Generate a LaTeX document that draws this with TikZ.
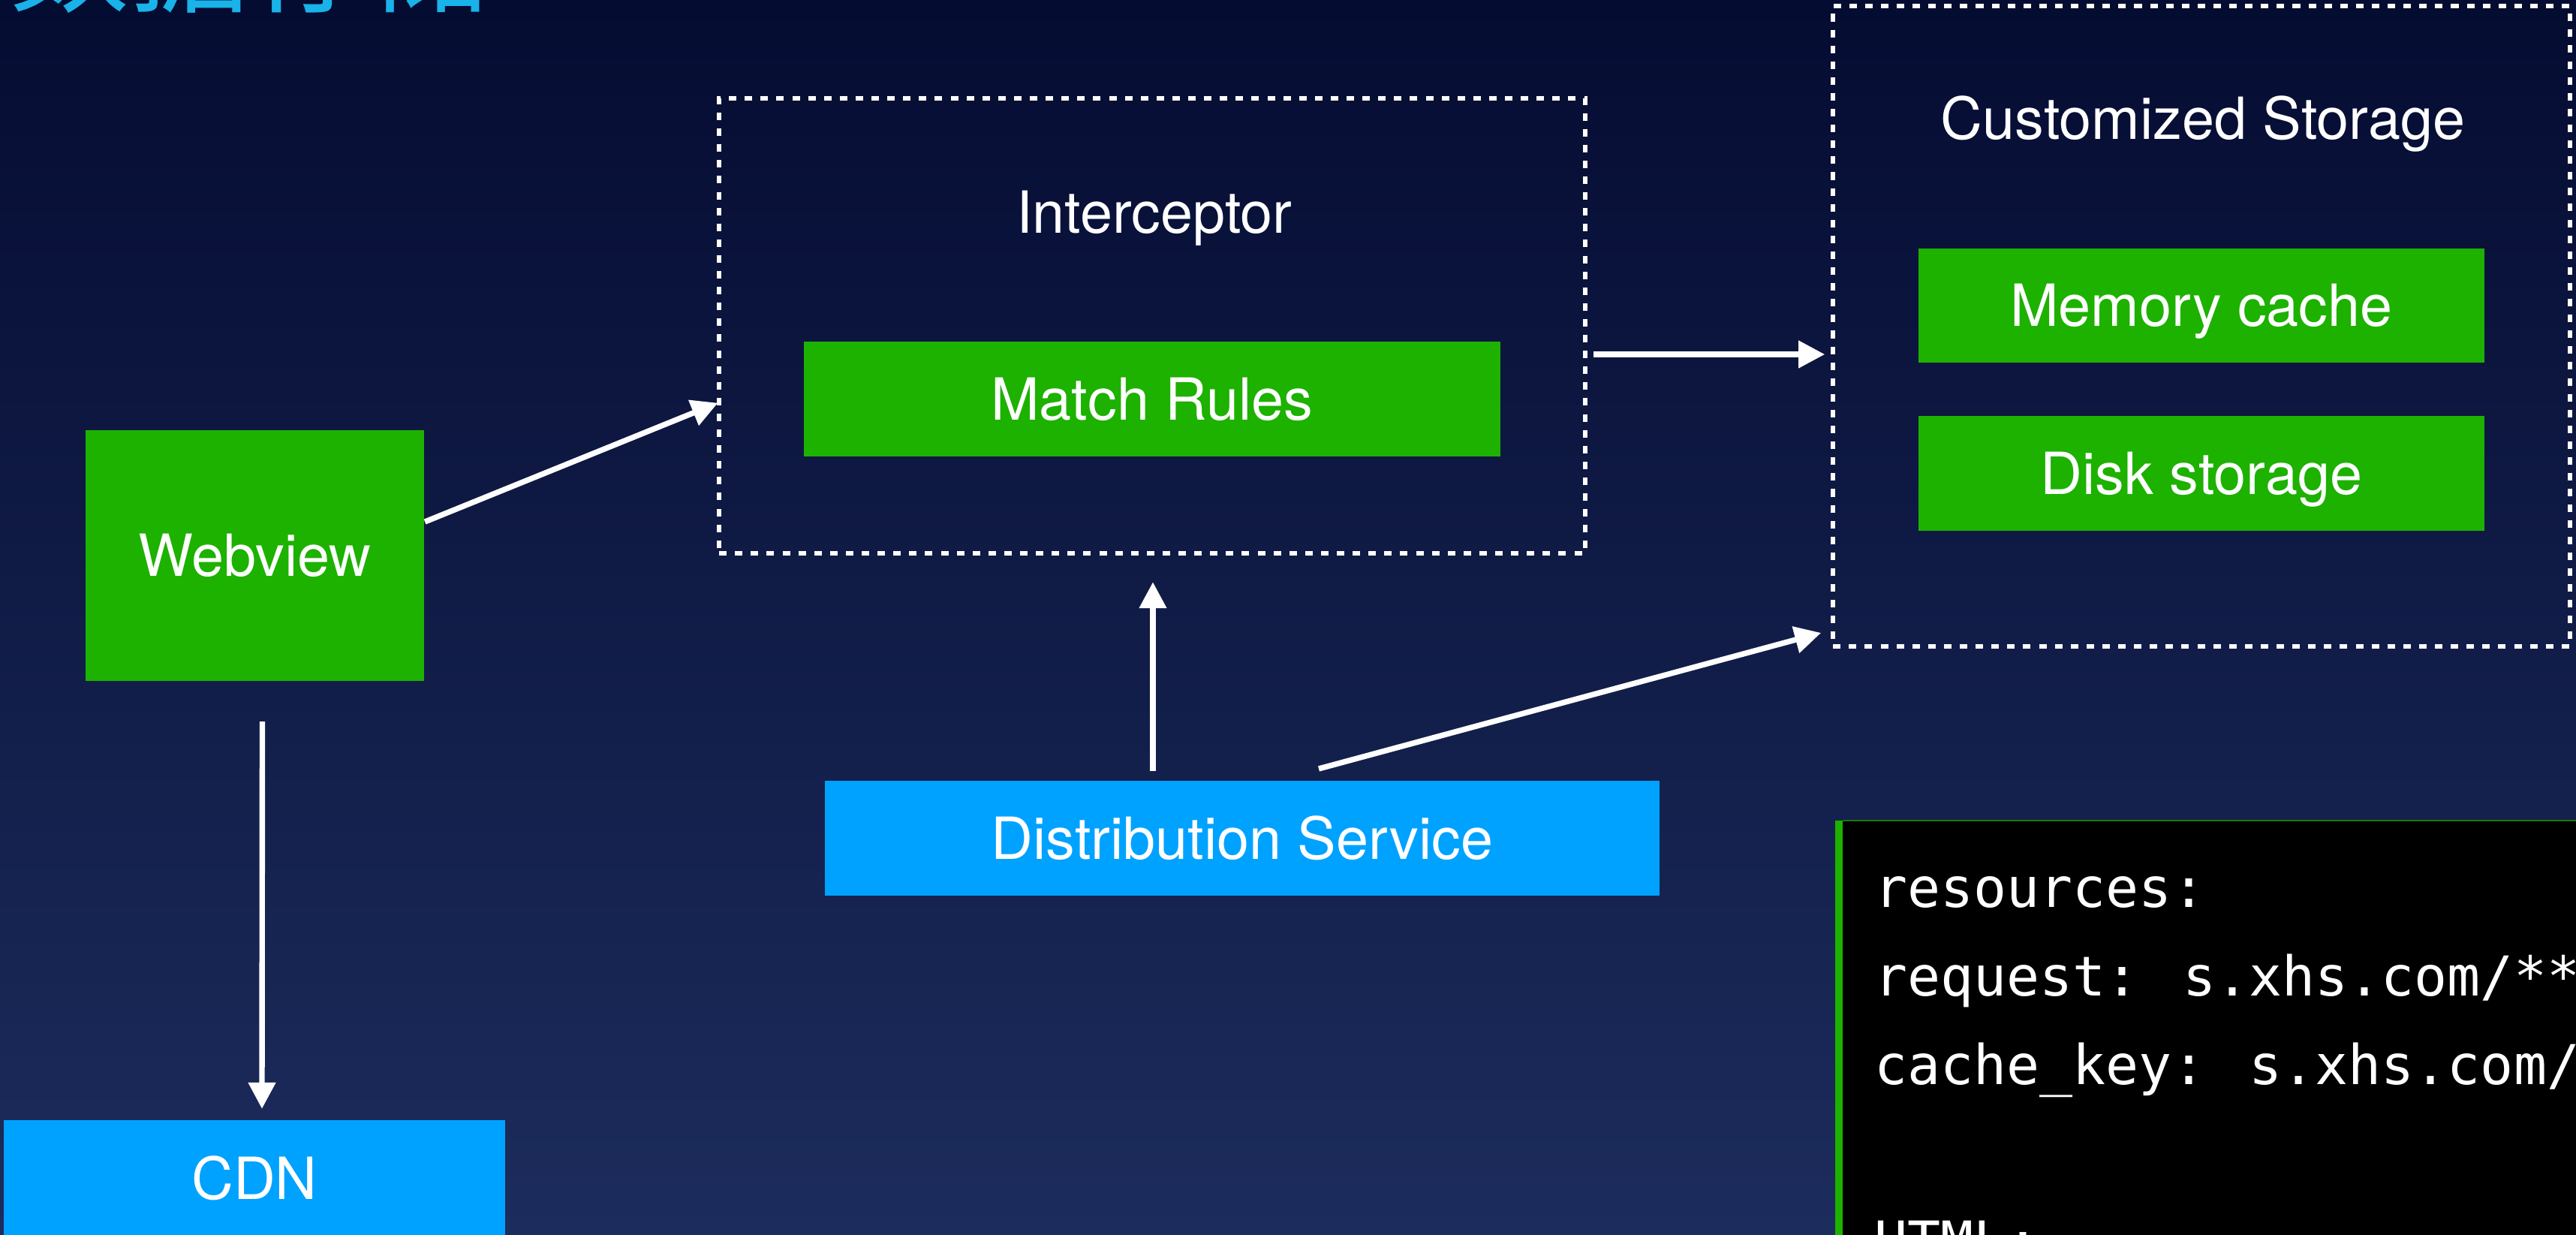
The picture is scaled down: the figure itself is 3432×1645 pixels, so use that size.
\documentclass[tikz,border=0pt]{standalone}
\usepackage{fontspec}
\usetikzlibrary{arrows.meta,calc}
\newfontfamily\heros{TeX Gyre Heros}
\newfontfamily\codefont{DejaVu Sans Mono}
\newfontfamily\cjk{Noto Sans CJK SC}
\definecolor{bgtop}{HTML}{050C32}
\definecolor{bgbot}{HTML}{1C2C5C}
\definecolor{kgreen}{HTML}{1DB100}
\definecolor{kblue}{HTML}{00A2FF}
\definecolor{ktitle}{HTML}{19B2E9}
\begin{document}
\begin{tikzpicture}[x=0.01cm,y=-0.01cm,
  box/.style={rectangle, inner sep=0pt, outer sep=0pt, text=white,
    font=\heros\fontsize{22}{26}\selectfont, text height=0.55cm, text depth=0cm},
  greenbox/.style={box, fill=kgreen},
  bluebox/.style={box, fill=kblue},
  group/.style={rectangle, draw=white, line width=1.6pt,
    dash pattern=on 2.85pt off 3.15pt, inner sep=0pt, outer sep=0pt},
  lbl/.style={text=white, font=\heros\fontsize{22}{26}\selectfont, anchor=base, inner sep=0pt},
  arr/.style={draw=white, line width=2.1pt, -{Triangle[length=0.35cm,width=0.35cm]}},
  code/.style={text=white, font=\codefont\fontsize{20.8}{25}\selectfont, anchor=base west, inner sep=0pt}
]
\useasboundingbox (0,0) rectangle (3432,1645);
\clip (0,0) rectangle (3432,1645);
\shade[top color=bgtop, bottom color=bgbot] (0,0) rectangle (3432,1645);

% title (cut off at the top)
\node[anchor=base west, inner sep=0pt, text=ktitle, font=\cjk\fontsize{45.5}{50}\selectfont] (title) at (12,4) {数据存储};

% interceptor group
\node[group, minimum width=11.53cm, minimum height=6.06cm] (icpt) at (1535,434) {};
\node[lbl] (icptlbl) at (1538,310) {Interceptor};
\node[greenbox, minimum width=9.27cm, minimum height=1.53cm] (match) at (1535,531.5) {Match Rules};

% storage group
\node[group, minimum width=9.81cm, minimum height=8.53cm] (stor) at (2933,434.5) {};
\node[lbl] (storlbl) at (2935,185) {Customized Storage};
\node[greenbox, minimum width=7.54cm, minimum height=1.52cm] (mem) at (2933,407) {Memory cache};
\node[greenbox, minimum width=7.54cm, minimum height=1.53cm] (disk) at (2933,630.5) {Disk storage};

% webview, cdn, distribution
\node[greenbox, minimum width=4.51cm, minimum height=3.34cm] (webview) at (339.5,740) {Webview};
\node[bluebox, minimum width=6.68cm, minimum height=1.56cm] (cdn) at (339,1570) {CDN};
\node[bluebox, minimum width=11.12cm, minimum height=1.53cm] (dist) at (1655,1116.5) {Distribution Service};

% code panel
\fill[black] (2454.5,1092.5) rectangle (3440,1700);
\fill[kgreen] (2444.5,1092.5) rectangle (2454.5,1700);
\draw[kgreen!70!black, line width=0.5pt] (2454.5,1093.2) -- (3440,1093.2);
\node[code] (code1) at (2497,1208.5) {resources:};
\node[code] (code2) at (2497,1326) {request: s.xhs.com/**};
\node[code] (code3) at (2497,1444) {cache\_key: s.xhs.com/};
\node[code] (code4) at (2497,1679) {HTML:};

% connectors
\draw[arr] ($(webview.east)+(1,-45)$) -- ($(icpt.west)+(-1.7,102.7)$);
\draw[arr] ($(icpt.east)+(11.3,38)$) -- ($(stor.west)+(-11,37.5)$);
\draw[arr] ($(dist.north)+(-119,-13)$) -- ($(icpt.south)+(1,38)$);
\draw[arr] ($(dist.north)+(102,-16)$) -- ($(stor.south west)+(-16,-18.3)$);
\draw[arr] ($(webview.south)+(10,54)$) -- ($(cdn.north)+(10,-15)$);
\end{tikzpicture}
\end{document}
